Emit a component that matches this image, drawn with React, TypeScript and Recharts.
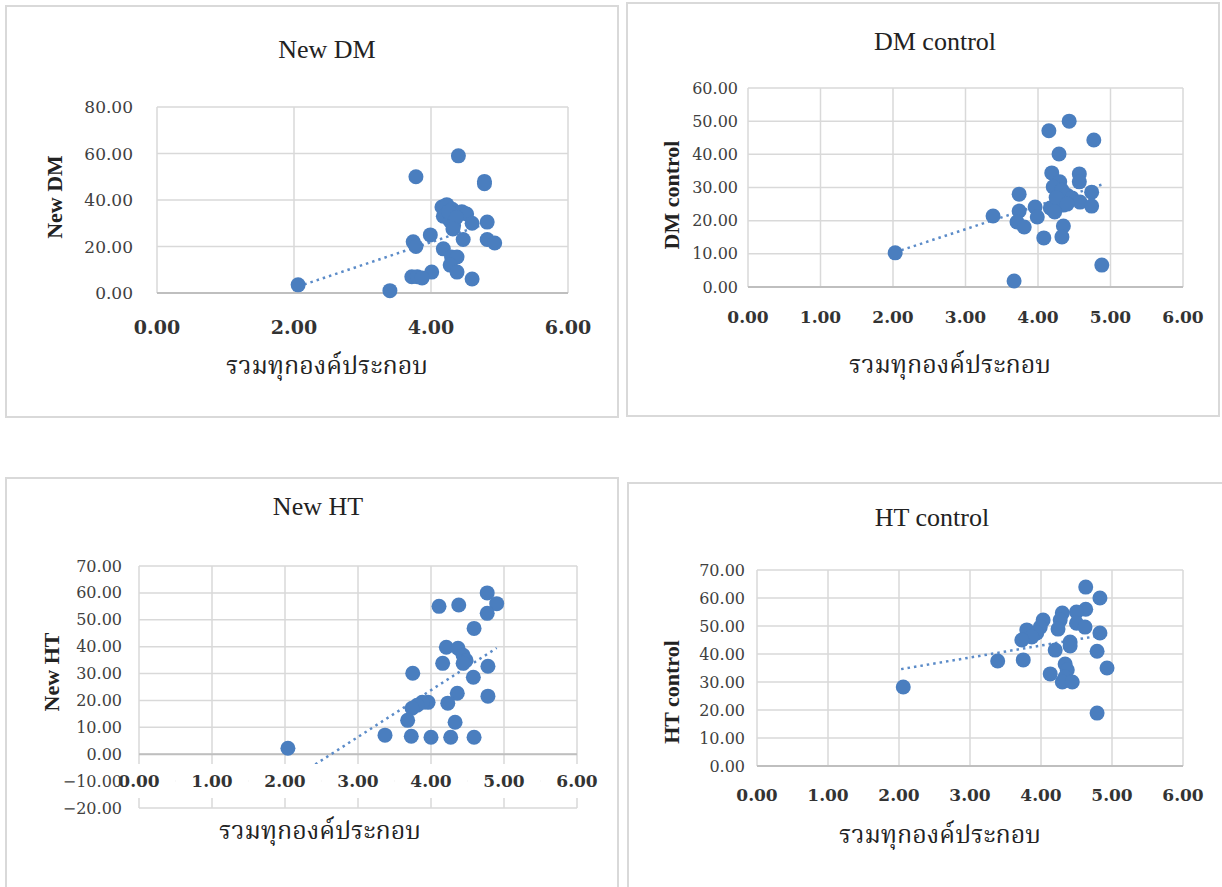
import React from 'react';
import {
  ScatterChart, Scatter, XAxis, YAxis, CartesianGrid, ReferenceLine,
} from 'recharts';

// shared x axis
const xTicksDm = [0, 2, 4, 6];
const xTicksAll = [0, 1, 2, 3, 4, 5, 6];
const xTitle = 'รวมทุกองค์ประกอบ';

// New DM
const newDmX = [4.40, 3.78, 4.78, 4.78, 4.16, 4.23, 4.31, 4.45, 4.52, 4.18, 4.28, 4.33, 4.60, 4.82, 3.99, 4.47, 4.82, 4.93, 3.74, 3.78, 4.18, 4.30, 4.38, 4.28, 4.38, 4.01, 3.72, 3.80, 3.87, 4.60, 2.06, 3.40, 4.26, 4.37, 4.32];
const newDmY = [59, 50, 48, 47, 37, 38, 36, 35, 34, 33, 31, 29, 30, 30.5, 25, 23, 23, 21.5, 22, 20, 19, 15.5, 15.5, 12, 9, 9, 7, 7, 6.5, 6, 3.5, 1, 35, 32.5, 27.5];
const newDmTrendX = [2.06, 4.93];
const newDmTrendY = [2.8, 31];
const newDmYTicks = [0, 20, 40, 60, 80];

// DM control
const dmCtlX = [4.43, 4.15, 4.77, 4.29, 4.19, 4.57, 4.57, 4.30, 4.21, 4.33, 4.40, 4.74, 3.74, 4.47, 4.58, 4.35, 4.74, 3.96, 4.17, 4.23, 3.74, 3.38, 3.99, 3.71, 3.81, 4.35, 4.33, 4.08, 2.03, 4.88, 3.67, 4.25, 4.40];
const dmCtlY = [50, 47.1, 44.3, 40.1, 34.4, 34.1, 31.7, 31.7, 30.2, 29.2, 27.7, 28.6, 28, 26.8, 25.6, 24.7, 24.4, 24.1, 23.8, 22.6, 22.9, 21.4, 21.1, 19.6, 18.1, 18.4, 15.1, 14.8, 10.3, 6.6, 1.8, 27, 25];
const dmCtlTrendX = [2.03, 4.90];
const dmCtlTrendY = [10.5, 31];
const dmCtlYTicks = [0, 10, 20, 30, 40, 50, 60];

// New HT
const newHtX = [4.77, 4.90, 4.11, 4.38, 4.77, 4.59, 4.21, 4.37, 4.44, 4.48, 4.16, 4.44, 4.78, 3.75, 4.58, 4.36, 4.78, 3.96, 3.88, 3.81, 4.23, 3.74, 3.68, 4.33, 3.37, 3.73, 4.00, 4.27, 4.59, 2.04];
const newHtY = [60, 56, 55, 55.5, 52.4, 46.8, 39.8, 39.4, 36.8, 34.9, 33.8, 33.8, 32.7, 30.1, 28.6, 22.7, 21.6, 19.3, 19.3, 18.2, 19, 17.1, 12.6, 11.9, 7.1, 6.7, 6.3, 6.3, 6.3, 2.2];
const newHtTrendX = [2.04, 4.90];
const newHtTrendY = [-10.3, 39.5];
const newHtYTicks = [-20, -10, 0, 10, 20, 30, 40, 50, 60, 70];

// HT control
const htCtlX = [4.63, 4.83, 4.63, 4.50, 4.30, 4.27, 4.03, 3.99, 4.50, 4.62, 4.24, 3.80, 3.94, 3.87, 4.83, 3.73, 4.41, 4.41, 4.20, 4.79, 3.39, 3.75, 4.34, 4.37, 4.93, 4.13, 4.34, 4.30, 4.44, 2.06, 4.79];
const htCtlY = [63.9, 60, 56, 55, 54.6, 52.1, 52.1, 49.6, 51, 49.6, 48.9, 48.6, 47.5, 46.1, 47.5, 45, 44.3, 42.9, 41.4, 41, 37.5, 37.9, 36.4, 34.3, 35, 32.9, 31.8, 30, 30, 28.2, 18.9];
const htCtlTrendX = [2.03, 4.93];
const htCtlTrendY = [34.6, 47];
const htCtlYTicks = [0, 10, 20, 30, 40, 50, 60, 70];

const DOT = '#4a7ebf';
const GRID = '#d9d9d9';
const TICK_FONT = '"DejaVu Serif", serif';
const TITLE_FONT = '"Liberation Serif", "Times New Roman", serif';
const THAI_FONT = '"Noto Serif Thai", "Noto Sans Thai", Norasi, Garuda, Loma, "Tlwg Typo", serif';

const fmt = (v: number) => (v < 0 ? '\u2212' + Math.abs(v).toFixed(2) : v.toFixed(2));

const zip = (xs: number[], ys: number[]) => xs.map((x, i) => ({ x, y: ys[i] }));

interface PanelProps {
  title: string;
  yTitle: string;
  xs: number[];
  ys: number[];
  trendX: number[];
  trendY: number[];
  xTicks: number[];
  yTicks: number[];
  box: { x: number; y: number; w: number; h: number };
  plot: { l: number; t: number; r: number; b: number };
  yLabelRight: number;
  xLabelY: number;
  titlePos: [number, number];
  yTitlePos: [number, number];
  xTitlePos: [number, number];
  yFont: number;
  xFont: number;
  axisAtZero?: boolean;
}

const Y_W = 60;
const X_H = 30;

function Panel(p: PanelProps) {
  const { box, plot } = p;
  const data = zip(p.xs, p.ys);
  const margin = {
    left: plot.l - box.x - Y_W,
    top: plot.t - box.y,
    right: box.x + box.w - plot.r,
    bottom: box.y + box.h - plot.b - X_H,
  };
  const yMin = p.yTicks[0];
  const yMax = p.yTicks[p.yTicks.length - 1];
  const xStep = (plot.r - plot.l) / (p.xTicks.length - 1);

  const renderYTick = (props: any) => (
    <text
      x={p.yLabelRight - box.x}
      y={props.y}
      textAnchor="end"
      dominantBaseline="central"
      fontFamily={TICK_FONT}
      fontSize={p.yFont}
      fill="#404040"
    >
      {fmt(props.payload.value)}
    </text>
  );

  const renderXTick = (props: any) => {
    const ty = p.xLabelY - box.y;
    return (
      <g>
        {p.axisAtZero && (
          <rect x={props.x - xStep / 2} y={ty - 17} width={xStep} height={34} fill="#fff" />
        )}
        <text
          x={props.x}
          y={ty}
          textAnchor="middle"
          dominantBaseline="central"
          fontFamily={TICK_FONT}
          fontWeight="bold"
          fontSize={p.xFont}
          fill="#333"
        >
          {fmt(props.payload.value)}
        </text>
      </g>
    );
  };

  const text = (pos: [number, number], content: string, style: React.CSSProperties, rotate = false) => (
    <div
      style={{
        position: 'absolute',
        left: pos[0],
        top: pos[1],
        transform: `translate(-50%, -50%)${rotate ? ' rotate(-90deg)' : ''}`,
        whiteSpace: 'nowrap',
        lineHeight: 1,
        ...style,
      }}
    >
      {content}
    </div>
  );

  return (
    <>
      <div
        style={{
          position: 'absolute',
          left: box.x,
          top: box.y,
          width: box.w,
          height: box.h,
          border: `2px solid ${GRID}`,
          boxSizing: 'border-box',
          background: '#fff',
        }}
      />
      <div style={{ position: 'absolute', left: box.x, top: box.y }}>
        <ScatterChart width={box.w} height={box.h} margin={margin}>
          <CartesianGrid stroke={GRID} strokeWidth={1.5} />
          {p.axisAtZero && <ReferenceLine y={0} stroke="#bfbfbf" strokeWidth={2} />}
          <Scatter
            data={data}
            fill={DOT}
            isAnimationActive={false}
            shape={(s: any) => <circle cx={s.cx} cy={s.cy} r={7.5} fill={DOT} />}
          />
          <ReferenceLine
            segment={[
              { x: p.trendX[0], y: p.trendY[0] },
              { x: p.trendX[1], y: p.trendY[1] },
            ]}
            stroke="#5b8bc8"
            strokeWidth={2.5}
            strokeDasharray="2.5 4"
          />
          <XAxis
            type="number"
            dataKey="x"
            domain={[0, 6]}
            ticks={p.xTicks}
            interval={0}
            height={X_H}
            tickLine={false}
            axisLine={p.axisAtZero ? false : { stroke: '#bfbfbf', strokeWidth: 2 }}
            tick={renderXTick}
          />
          <YAxis
            type="number"
            dataKey="y"
            domain={[yMin, yMax]}
            ticks={p.yTicks}
            interval={0}
            width={Y_W}
            tickLine={false}
            axisLine={false}
            tick={renderYTick}
          />
        </ScatterChart>
      </div>
      {text(p.titlePos, p.title, { fontFamily: TITLE_FONT, fontSize: 26, color: '#222' })}
      {text(p.yTitlePos, p.yTitle, { fontFamily: TITLE_FONT, fontSize: 22, fontWeight: 'bold', color: '#222' }, true)}
      {text(p.xTitlePos, xTitle, { fontFamily: THAI_FONT, fontSize: 25, color: '#222' })}
    </>
  );
}

export default function App() {
  return (
    <div style={{ position: 'absolute', left: 0, top: 0, width: 1222, height: 887, background: '#fff', overflow: 'hidden' }}>
      <Panel
        title="New DM"
        yTitle="New DM"
        xs={newDmX}
        ys={newDmY}
        trendX={newDmTrendX}
        trendY={newDmTrendY}
        xTicks={xTicksDm}
        yTicks={newDmYTicks}
        box={{ x: 5, y: 5, w: 614, h: 413 }}
        plot={{ l: 157, t: 107, r: 568, b: 293 }}
        yLabelRight={133}
        xLabelY={327}
        titlePos={[327, 50]}
        yTitlePos={[55, 197]}
        xTitlePos={[327, 367]}
        yFont={17}
        xFont={19}
      />
      <Panel
        title="DM control"
        yTitle="DM control"
        xs={dmCtlX}
        ys={dmCtlY}
        trendX={dmCtlTrendX}
        trendY={dmCtlTrendY}
        xTicks={xTicksAll}
        yTicks={dmCtlYTicks}
        box={{ x: 626, y: 2, w: 594, h: 415 }}
        plot={{ l: 748, t: 88, r: 1183, b: 287 }}
        yLabelRight={738}
        xLabelY={317}
        titlePos={[935, 42]}
        yTitlePos={[672, 195]}
        xTitlePos={[950, 366]}
        yFont={16}
        xFont={17}
      />
      <Panel
        title="New HT"
        yTitle="New HT"
        xs={newHtX}
        ys={newHtY}
        trendX={newHtTrendX}
        trendY={newHtTrendY}
        xTicks={xTicksAll}
        yTicks={newHtYTicks}
        box={{ x: 5, y: 477, w: 614, h: 412 }}
        plot={{ l: 139, t: 566, r: 577, b: 808 }}
        yLabelRight={122}
        xLabelY={781}
        titlePos={[318, 507]}
        yTitlePos={[52, 672]}
        xTitlePos={[320, 832]}
        yFont={16}
        xFont={17}
        axisAtZero
      />
      <Panel
        title="HT control"
        yTitle="HT control"
        xs={htCtlX}
        ys={htCtlY}
        trendX={htCtlTrendX}
        trendY={htCtlTrendY}
        xTicks={xTicksAll}
        yTicks={htCtlYTicks}
        box={{ x: 627, y: 482, w: 597, h: 407 }}
        plot={{ l: 757, t: 570, r: 1183, b: 766 }}
        yLabelRight={745}
        xLabelY={795}
        titlePos={[932, 518]}
        yTitlePos={[672, 692]}
        xTitlePos={[940, 836]}
        yFont={16}
        xFont={17}
      />
    </div>
  );
}
